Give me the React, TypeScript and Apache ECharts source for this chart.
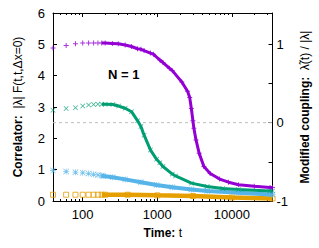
import React, { useEffect, useRef } from 'react';
import * as echarts from 'echarts';

// ---- data ----
const purpleT = [40, 60, 80, 100, 120, 140, 160, 180, 200, 250, 300, 371, 450, 542, 603, 665, 808, 890, 1080, 1190, 1450, 1590, 2130, 2540, 2718, 2857, 3000, 3090, 3300, 3640, 4210, 5110, 6840, 9000, 12270, 19950, 32400, 35000];
const purpleV = [4.88, 4.96, 5.02, 5.04, 5.04, 5.04, 5.04, 5.04, 5.04, 5.03, 5.02, 4.98, 4.93, 4.86, 4.84, 4.8, 4.72, 4.68, 4.5, 4.42, 4.24, 4.16, 3.8, 3.5, 3.3, 2.95, 2.56, 2.32, 1.95, 1.52, 1.1, 0.88, 0.7, 0.6, 0.52, 0.47, 0.43, 0.43];

const greenT = [40, 60, 80, 100, 120, 140, 160, 180, 200, 254, 303, 371, 451, 545, 603, 665, 808, 978, 1080, 1190, 1590, 1754, 2860, 4660, 7530, 12200, 32000, 35000];
const greenV = [2.9, 2.95, 2.98, 3.03, 3.06, 3.08, 3.09, 3.09, 3.09, 3.08, 3.03, 2.96, 2.85, 2.56, 2.38, 2.1, 1.63, 1.33, 1.22, 1.1, 0.86, 0.8, 0.57, 0.46, 0.4, 0.37, 0.32, 0.32];

const blueT = [40, 60, 80, 100, 120, 140, 160, 180, 188, 252, 371, 604, 978, 1590, 2860, 4660, 12200, 32400, 35000];
const blueV = [0.97, 0.94, 0.92, 0.9, 0.88, 0.85, 0.83, 0.81, 0.8, 0.76, 0.69, 0.6, 0.51, 0.44, 0.37, 0.32, 0.26, 0.21, 0.21];

const orangeT = [40, 60, 80, 100, 120, 140, 160, 180, 200, 400, 1000, 3000, 10000, 35000];
const orangeV = [0.2, 0.2, 0.2, 0.2, 0.2, 0.2, 0.2, 0.2, 0.2, 0.2, 0.18, 0.16, 0.11, 0.08];

// dashed reference level (right-axis 0, i.e. left-axis 2.5)
const zeroLevel = 2.5;

const xMin = 40;
const xMax = 35000;
const xMajorTicks = [100, 1000, 10000];
const xMinorTicks = [50, 60, 70, 80, 90, 200, 300, 400, 500, 600, 700, 800, 900, 2000, 3000, 4000, 5000, 6000, 7000, 8000, 9000, 20000, 30000];
const rightTicks = [-1, -0.5, 0, 0.5, 1];
const rightLabels = [-1, 0, 1];

const DENSE_FROM = 180;

const PLUS = 'path://M4,0H6V4H10V6H6V10H4V6H0V4H4Z';
const CROSS = 'path://M1,0L5,4L9,0L10,1L6,5L10,9L9,10L5,6L1,10L0,9L4,5L0,1Z';
const STAR = 'path://M4.4,0H5.6V10H4.4Z M0,4.4H10V5.6H0Z M0.8,0L10,9.2L9.2,10L0,0.8Z M9.2,0L10,0.8L0.8,10L0,9.2Z';

const FONT = '"Liberation Sans", Arial, Helvetica, sans-serif';

function pts(t: number[], v: number[]) {
  return t.map((x, i) => [x, v[i]]);
}

function curve(name: string, t: number[], v: number[], color: string, symbol: string, size: number, width: number, emptyFill?: boolean) {
  const all = pts(t, v);
  const dense = all.filter((p) => p[0] >= DENSE_FROM);
  return [
    {
      name: name + '-band',
      type: 'line',
      data: dense,
      showSymbol: false,
      symbol: 'none',
      lineStyle: { color, width },
      z: 2,
      silent: true,
    },
    {
      name,
      type: 'scatter',
      data: all,
      symbol,
      symbolSize: size,
      itemStyle: emptyFill
        ? { color: 'none', borderColor: color, borderWidth: 1 }
        : { color },
      z: 3,
      silent: true,
    },
  ];
}

export default function App() {
  const ref = useRef<HTMLDivElement>(null);
  useEffect(() => {
    if (!ref.current) return;
    const chart = echarts.init(ref.current, null, { renderer: 'svg' });
    const black = '#000';
    const logAxisBase = { type: 'log', logBase: 10, min: xMin, max: xMax, splitLine: { show: false } };
    const option: any = {
      animation: false,
      grid: { left: 53, right: 33, top: 13, bottom: 47, containLabel: false },
      xAxis: [
        {
          ...logAxisBase,
          position: 'bottom',
          axisLine: { show: true, onZero: false, lineStyle: { color: black, width: 1 } },
          axisTick: { inside: true, length: 4, customValues: xMajorTicks, lineStyle: { color: black } },
          axisLabel: { customValues: xMajorTicks, formatter: (v: number) => String(Math.round(v)), color: black, fontSize: 13, fontFamily: FONT, margin: 7 },
          name: '{b|Time:} t',
          nameLocation: 'middle',
          nameGap: 26,
          nameTextStyle: { color: black, fontSize: 12, fontFamily: FONT, rich: { b: { fontWeight: 'bold', fontSize: 12, fontFamily: FONT, color: black } } },
        },
        {
          ...logAxisBase,
          position: 'bottom',
          axisLine: { show: false, onZero: false },
          axisTick: { inside: true, length: 2, customValues: xMinorTicks, lineStyle: { color: black } },
          axisLabel: { show: false },
        },
        {
          ...logAxisBase,
          position: 'top',
          axisLine: { show: true, onZero: false, lineStyle: { color: black, width: 1 } },
          axisTick: { inside: true, length: 4, customValues: xMajorTicks, lineStyle: { color: black } },
          axisLabel: { show: false },
        },
        {
          ...logAxisBase,
          position: 'top',
          axisLine: { show: false, onZero: false },
          axisTick: { inside: true, length: 2, customValues: xMinorTicks, lineStyle: { color: black } },
          axisLabel: { show: false },
        },
      ],
      yAxis: [
        {
          type: 'value',
          position: 'left',
          min: 0,
          max: 6,
          interval: 1,
          splitLine: { show: false },
          axisLine: { show: true, onZero: false, lineStyle: { color: black, width: 1 } },
          axisTick: { inside: true, length: 4, lineStyle: { color: black } },
          axisLabel: { color: black, fontSize: 13, fontFamily: FONT, margin: 8 },
          name: '{b|Correlator:}  |λ| F(t,t,Δx=0)',
          nameLocation: 'middle',
          nameRotate: 90,
          nameGap: 29,
          nameTextStyle: { color: black, fontSize: 12, fontFamily: FONT, rich: { b: { fontWeight: 'bold', fontSize: 12, fontFamily: FONT, color: black } } },
        },
        {
          type: 'value',
          position: 'right',
          min: -1,
          max: 1.4,
          splitLine: { show: false },
          axisLine: { show: true, onZero: false, lineStyle: { color: black, width: 1 } },
          axisTick: { inside: true, length: 4, customValues: rightTicks, lineStyle: { color: black } },
          axisLabel: { customValues: rightLabels, color: black, fontSize: 13, fontFamily: FONT, margin: 4 },
          name: '{b|Modified coupling:}  λ̃(t) / |λ|',
          nameLocation: 'middle',
          nameRotate: 90,
          nameGap: 18,
          nameTextStyle: { color: black, fontSize: 12, fontFamily: FONT, rich: { b: { fontWeight: 'bold', fontSize: 12, fontFamily: FONT, color: black } } },
        },
      ],
      graphic: [
        {
          type: 'text',
          left: 108,
          top: 68,
          style: { text: 'N = 1', fontSize: 13, fontWeight: 'bold', fontFamily: FONT, fill: black },
        },
      ],
      series: [
        {
          name: 'zero',
          type: 'line',
          data: [[xMin, zeroLevel], [xMax, zeroLevel]],
          symbol: 'none',
          showSymbol: false,
          z: 1,
          silent: true,
          lineStyle: { color: '#bdbdbd', type: [3, 3], width: 1 },
        },
        ...curve('orange', orangeT, orangeV, '#E69F00', 'rect', 5, 4.5, true),
        ...curve('blue', blueT, blueV, '#56B4E9', STAR, 6, 4),
        ...curve('green', greenT, greenV, '#009E73', CROSS, 5, 3),
        ...curve('purple', purpleT, purpleV, '#9400D3', PLUS, 5, 3),
      ],
    };
    chart.setOption(option);
    return () => chart.dispose();
  }, []);
  return <div ref={ref} style={{ width: 319, height: 248, position: 'absolute', left: 0, top: 0 }} />;
}
